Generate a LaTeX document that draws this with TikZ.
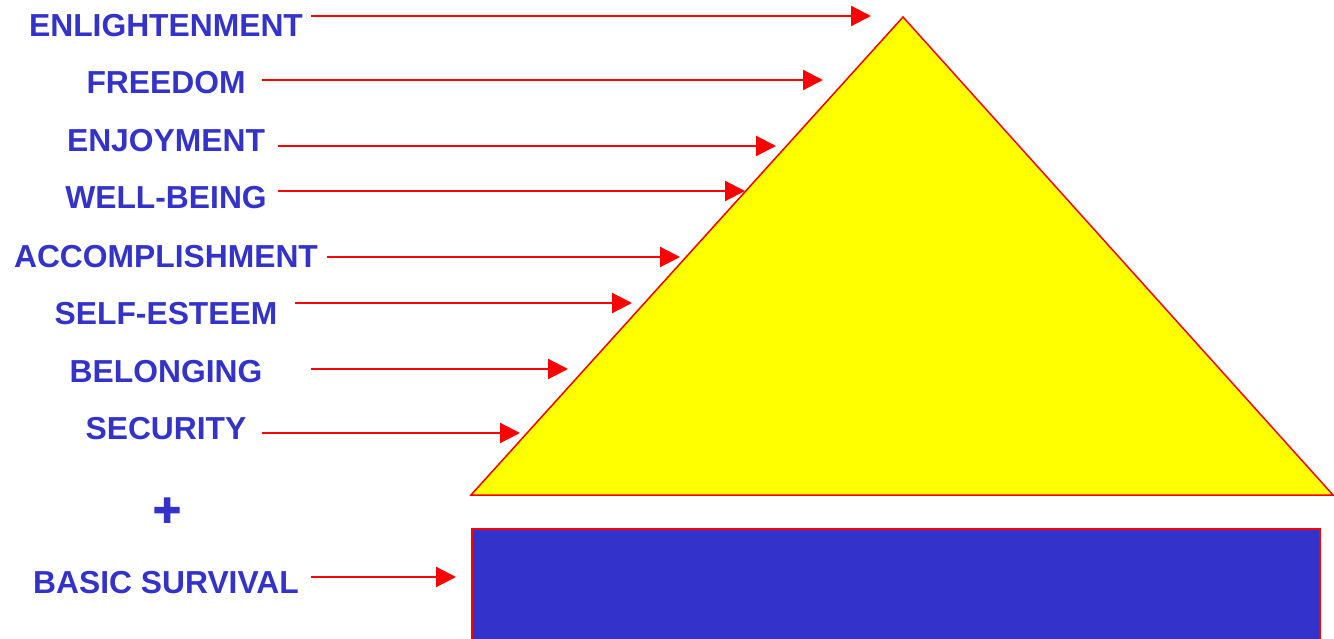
\documentclass[tikz,border=0pt]{standalone}
\usepackage{fontspec}
\setmainfont{Liberation Sans}
\newfontfamily\plusfont[FakeBold=2.5]{Liberation Sans Bold}
\usetikzlibrary{arrows.meta}
\definecolor{lblue}{HTML}{3333CC}
\definecolor{pyellow}{HTML}{FFFF00}
\begin{document}
\begin{tikzpicture}[x=1pt,y=-1pt,
  lbl/.style={text=lblue,font=\fontsize{31.8}{36}\selectfont\bfseries,inner sep=0pt,anchor=center},
  arr/.style={draw=red,line width=2.2pt,-{Triangle[length=20pt,width=20pt]}}]
\useasboundingbox (0,0) rectangle (1334,639);
% shapes
\draw[red,line width=1.5pt,fill=pyellow,line join=miter] (903,17) -- (471,495) -- (1333,495) -- cycle;
\node[draw=red,line width=2pt,fill=lblue,minimum width=848pt,minimum height=130pt,inner sep=0pt,anchor=north west] (base) at (471,528) {};
% labels
\node[lbl] (l1) at (166,26) {ENLIGHTENMENT};
\node[lbl] (l2) at (166,83) {FREEDOM};
\node[lbl] (l3) at (166,141) {ENJOYMENT};
\node[lbl] (l4) at (166,198) {WELL-BEING};
\node[lbl] (l5) at (166,257) {ACCOMPLISHMENT};
\node[lbl] (l6) at (166,314) {SELF-ESTEEM};
\node[lbl] (l7) at (166,372) {BELONGING};
\node[lbl] (l8) at (166,429) {SECURITY};
\node[lbl,font=\fontsize{48}{50}\selectfont\plusfont] (plus) at (167,512) {+};
\node[lbl] (l9) at (166,583) {BASIC SURVIVAL};
% arrow coordinates
\coordinate (s1) at (311,16);  \coordinate (e1) at (871,16);
\coordinate (s2) at (262,80);  \coordinate (e2) at (823,80);
\coordinate (s3) at (278,146); \coordinate (e3) at (776,146);
\coordinate (s4) at (278,191); \coordinate (e4) at (745,191);
\coordinate (s5) at (327,257); \coordinate (e5) at (680,257);
\coordinate (s6) at (295,303); \coordinate (e6) at (632,303);
\coordinate (s7) at (311,369); \coordinate (e7) at (568,369);
\coordinate (s8) at (262,433); \coordinate (e8) at (520,433);
\coordinate (s9) at (311,577); \coordinate (e9) at (456,577);
\foreach \i in {1,...,9} {\draw[arr] (s\i) -- (e\i);}
\end{tikzpicture}
\end{document}
